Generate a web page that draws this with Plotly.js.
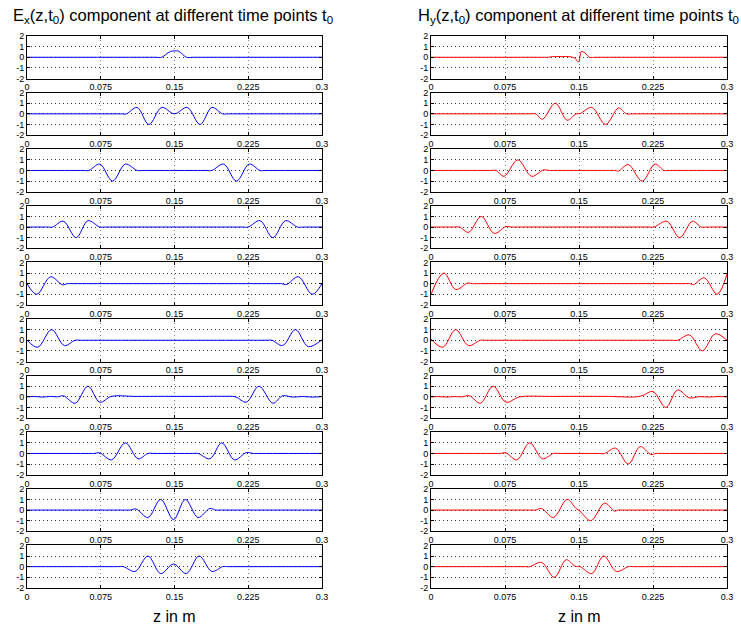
<!DOCTYPE html>
<html>
<head>
<meta charset="utf-8">
<script src="https://cdn.plot.ly/plotly-3.0.1.min.js"></script>
<style>html,body{margin:0;padding:0;background:#fff;}#chart{width:741px;height:628px;}</style>
</head>
<body>
<div id="chart"></div>
<script>
// ---- Data: Ex(z,t0) component, 10 time points (z in m, value) ----
var exZ1 = [0, 0.130, 0.137, 0.141, 0.146, 0.150, 0.154, 0.158, 0.162, 0.169, 0.3];
var exV1 = [0, 0, 0, 0.25, 0.55, 0.6, 0.58, 0.3, 0, 0, 0];
var exZ2 = [0, 0.095, 0.101, 0.112, 0.124, 0.137, 0.150, 0.163, 0.176, 0.188, 0.199, 0.205, 0.3];
var exV2 = [0, 0, 0, 0.6, -1, 0.6, 0, 0.6, -1, 0.6, 0, 0, 0];
var exZ3 = [0, 0.057, 0.063, 0.074, 0.087, 0.100, 0.112, 0.118, 0.182, 0.188, 0.200, 0.213, 0.226, 0.237, 0.243, 0.3];
var exV3 = [0, 0, 0, 0.6, -1, 0.6, 0, 0, 0, 0, 0.6, -1, 0.6, 0, 0, 0];
var exZ4 = [0, 0.020, 0.026, 0.037, 0.050, 0.062, 0.074, 0.080, 0.219, 0.225, 0.237, 0.250, 0.263, 0.275, 0.281, 0.3];
var exV4 = [0, 0, 0, 0.55, -1, 0.6, 0, 0, 0, 0, 0.6, -1, 0.6, 0, 0, 0];
var exZ5 = [0, 0.010, 0.024, 0.036, 0.041, 0.047, 0.253, 0.259, 0.264, 0.276, 0.290, 0.3];
var exV5 = [0, -1, 0.65, -0.1, 0, 0, 0, 0, -0.08, 0.65, -1, 0];
var exZ6 = [0, 0.011, 0.025, 0.038, 0.049, 0.055, 0.243, 0.249, 0.260, 0.273, 0.286, 0.3];
var exV6 = [0, -0.65, 1, -0.5, 0, 0, 0, 0, -0.5, 1, -0.6, 0.05];
var exZ7 = [0, 0.008, 0.016, 0.024, 0.031, 0.037, 0.049, 0.062, 0.074, 0.086, 0.11, 0.14, 0.17, 0.2, 0.212, 0.223, 0.236, 0.250, 0.260, 0.27, 0.28, 0.29, 0.3];
var exV7 = [0, 0.03, -0.02, 0.04, 0.0, 0.1, -0.6, 1, -0.5, 0.05, 0.04, 0.05, 0.04, 0.05, 0.0, -0.5, 1, -0.6, 0.1, -0.02, 0.03, -0.02, 0.02];
var exZ8 = [0, 0.062, 0.068, 0.074, 0.086, 0.100, 0.113, 0.123, 0.129, 0.168, 0.174, 0.186, 0.198, 0.211, 0.223, 0.230, 0.236, 0.3];
var exV8 = [0, 0, 0, 0.05, -0.6, 1, -0.5, 0, 0, 0, 0, -0.5, 1, -0.6, 0.08, 0, 0, 0];
var exZ9 = [0, 0.099, 0.105, 0.111, 0.123, 0.136, 0.149, 0.161, 0.174, 0.186, 0.192, 0.198, 0.3];
var exV9 = [0, 0, 0, 0.1, -0.7, 1, -0.9, 1, -0.7, 0.15, 0, 0, 0];
var exZ10 = [0, 0.092, 0.098, 0.110, 0.123, 0.136, 0.149, 0.162, 0.175, 0.188, 0.199, 0.205, 0.3];
var exV10 = [0, 0, 0, -0.45, 1, -0.65, 0.25, -0.65, 1, -0.45, 0, 0, 0];

// ---- Data: Hy(z,t0) component, 10 time points ----
var hyZ1 = [0, 0.113, 0.119, 0.123, 0.132, 0.141, 0.146, 0.1495, 0.1525, 0.156, 0.161, 0.167, 0.3];
var hyV1 = [0, 0, 0, 0.06, 0.06, 0.05, -0.1, -0.45, 0.55, 0.4, 0, 0, 0];
var hyZ2 = [0, 0.100, 0.106, 0.113, 0.126, 0.138, 0.147, 0.151, 0.163, 0.177, 0.190, 0.198, 0.204, 0.3];
var hyV2 = [0, 0, 0, -0.5, 1, -0.6, 0, 0.02, 0.6, -1, 0.55, 0, 0, 0];
var hyZ3 = [0, 0.060, 0.066, 0.074, 0.088, 0.102, 0.114, 0.120, 0.126, 0.180, 0.186, 0.190, 0.200, 0.214, 0.227, 0.236, 0.242, 0.3];
var hyV3 = [0, 0, 0, -0.55, 1, -0.55, 0.05, 0, 0, 0, 0, -0.05, 0.55, -1, 0.6, 0, 0, 0];
var hyZ4 = [0, 0.023, 0.029, 0.038, 0.051, 0.064, 0.076, 0.082, 0.088, 0.220, 0.226, 0.239, 0.252, 0.265, 0.274, 0.280, 0.3];
var hyV4 = [0, 0, 0, -0.5, 1, -0.6, 0.05, 0, 0, 0, 0, 0.55, -1, 0.55, 0, 0, 0];
var hyZ5 = [0, 0.013, 0.025, 0.037, 0.042, 0.048, 0.256, 0.262, 0.266, 0.277, 0.290, 0.3];
var hyV5 = [-1, 1, -0.55, 0.05, 0, 0, 0, 0, -0.1, 0.55, -1, 0.9];
var hyZ6 = [0, 0.012, 0.025, 0.038, 0.050, 0.056, 0.244, 0.250, 0.262, 0.275, 0.288, 0.3];
var hyV6 = [0.1, -0.65, 1, -0.5, 0, 0, 0, 0, 0.5, -1, 0.6, 0];
var hyZ7 = [0, 0.008, 0.016, 0.024, 0.031, 0.039, 0.050, 0.063, 0.076, 0.090, 0.12, 0.15, 0.18, 0.208, 0.215, 0.225, 0.238, 0.250, 0.262, 0.272, 0.282, 0.291, 0.3];
var hyV7 = [0, 0.02, -0.02, 0.03, 0.0, 0.1, -0.6, 1, -0.5, 0, 0.04, 0.05, 0.04, 0.0, 0.15, 0.5, -1, 0.65, -0.1, 0.02, -0.02, 0.03, 0.0];
var hyZ8 = [0, 0.064, 0.070, 0.076, 0.087, 0.100, 0.113, 0.124, 0.130, 0.170, 0.176, 0.187, 0.200, 0.212, 0.223, 0.228, 0.234, 0.3];
var hyV8 = [0, 0, 0, 0.05, -0.6, 1, -0.5, 0, 0, 0, 0, 0.5, -1, 0.65, -0.1, 0, 0, 0];
var hyZ9 = [0, 0.100, 0.106, 0.112, 0.124, 0.138, 0.147, 0.151, 0.162, 0.176, 0.186, 0.190, 0.196, 0.3];
var hyV9 = [0, 0, 0, 0.15, -0.7, 1, 0.15, -0.1, -1, 0.65, -0.1, 0, 0, 0];
var hyZ10 = [0, 0.094, 0.100, 0.112, 0.125, 0.137, 0.146, 0.151, 0.163, 0.175, 0.188, 0.200, 0.206, 0.3];
var hyV10 = [0, 0, 0, 0.4, -1, 0.65, 0.05, 0, -0.65, 1, -0.45, 0, 0, 0];

var xTickVals = [0, 0.075, 0.15, 0.225, 0.3];
var xTickText = ['0', '0.075', '0.15', '0.225', '0.3'];
var yTickVals = [-2, -1, 0, 1, 2];
var yTickText = ['-2', '-1', '0', '1', '2'];

var exZ = [exZ1, exZ2, exZ3, exZ4, exZ5, exZ6, exZ7, exZ8, exZ9, exZ10];
var exV = [exV1, exV2, exV3, exV4, exV5, exV6, exV7, exV8, exV9, exV10];
var hyZ = [hyZ1, hyZ2, hyZ3, hyZ4, hyZ5, hyZ6, hyZ7, hyZ8, hyZ9, hyZ10];
var hyV = [hyV1, hyV2, hyV3, hyV4, hyV5, hyV6, hyV7, hyV8, hyV9, hyV10];

(function () {
  // ---- Layout geometry (pixels) ----
  var W = 741, H = 628;
  var colLeft = [27, 431], colRight = [322, 727];
  var rowTop0 = 36, rowPitch = 56.6, rowH = 42.5;

  var font = 'Liberation Sans, Arial, sans-serif';
  var traces = [];
  var layout = {
    width: W, height: H,
    margin: {l: 0, r: 0, t: 0, b: 0, pad: 0},
    paper_bgcolor: '#fff', plot_bgcolor: '#fff',
    showlegend: false,
    font: {family: font, color: '#000'},
    annotations: []
  };

  var n = 0;
  for (var c = 0; c < 2; c++) {
    for (var r = 0; r < 10; r++) {
      n++;
      var sfx = (n === 1 ? '' : String(n));
      var pTop = rowTop0 + rowPitch * r, pBot = pTop + rowH;
      traces.push({
        type: 'scatter', mode: 'lines',
        x: c === 0 ? exZ[r] : hyZ[r],
        y: c === 0 ? exV[r] : hyV[r],
        xaxis: 'x' + sfx, yaxis: 'y' + sfx,
        line: {color: c === 0 ? '#0000ff' : '#ff0000', width: 1, shape: 'spline', smoothing: 1},
        hoverinfo: 'skip'
      });
      layout['xaxis' + sfx] = {
        domain: [colLeft[c] / W, colRight[c] / W],
        anchor: 'y' + sfx,
        range: [0, 0.3], tickmode: 'array', tickvals: xTickVals, ticktext: xTickText,
        ticks: 'inside', ticklen: 3, tickcolor: '#000', tickwidth: 1,
        showline: true, linecolor: '#000', linewidth: 1, mirror: 'ticks',
        showgrid: true, gridcolor: '#8a8a8a', griddash: '1px,3px', gridwidth: 1,
        zeroline: false, tickfont: {size: 9, family: font, color: '#000'},
        tickangle: 0, fixedrange: true
      };
      layout['yaxis' + sfx] = {
        domain: [1 - pBot / H, 1 - pTop / H],
        anchor: 'x' + sfx,
        range: [-2, 2], tickmode: 'array', tickvals: yTickVals, ticktext: yTickText,
        ticks: 'inside', ticklen: 3, tickcolor: '#000', tickwidth: 1,
        showline: true, linecolor: '#000', linewidth: 1, mirror: 'ticks',
        showgrid: true, gridcolor: '#333', griddash: '1px,3px', gridwidth: 1,
        zeroline: false, tickfont: {size: 9, family: font, color: '#000'},
        fixedrange: true
      };
    }
  }

  layout.annotations.push({
    text: 'E<sub>x</sub>(z,t<sub>0</sub>) component at different time points t<sub>0</sub>',
    xref: 'paper', yref: 'paper', x: 173 / W, y: 1 - 16 / H, xanchor: 'center', yanchor: 'middle',
    showarrow: false, font: {size: 16.5, family: font, color: '#000'}
  });
  layout.annotations.push({
    text: 'H<sub>y</sub>(z,t<sub>0</sub>) component at different time points t<sub>0</sub>',
    xref: 'paper', yref: 'paper', x: 578 / W, y: 1 - 16 / H, xanchor: 'center', yanchor: 'middle',
    showarrow: false, font: {size: 16.5, family: font, color: '#000'}
  });
  layout.annotations.push({
    text: 'z in m', xref: 'paper', yref: 'paper', x: 174.5 / W, y: 1 - 616 / H,
    xanchor: 'center', yanchor: 'middle', showarrow: false, font: {size: 16, family: font, color: '#000'}
  });
  layout.annotations.push({
    text: 'z in m', xref: 'paper', yref: 'paper', x: 579 / W, y: 1 - 616 / H,
    xanchor: 'center', yanchor: 'middle', showarrow: false, font: {size: 16, family: font, color: '#000'}
  });

  Plotly.newPlot('chart', traces, layout, {staticPlot: true, displayModeBar: false});
})();
</script>
</body>
</html>
